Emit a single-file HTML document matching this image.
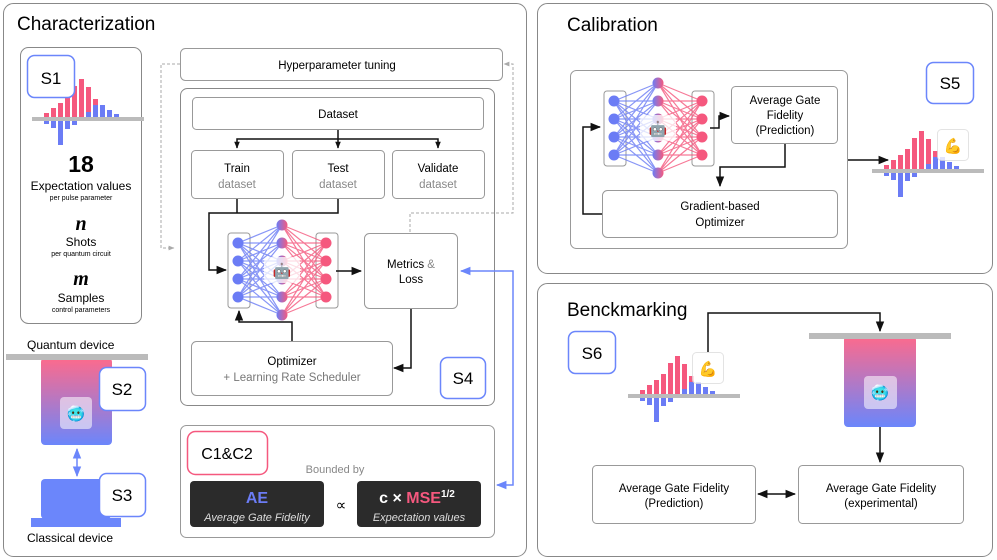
<!DOCTYPE html>
<html><head><meta charset="utf-8"><style>
body{margin:0;background:#fff}
svg{display:block;font-family:"Liberation Sans",sans-serif}
</style></head><body>
<svg width="997" height="560" viewBox="0 0 997 560" xmlns="http://www.w3.org/2000/svg">
<defs>
<linearGradient id="dev" x1="0" y1="0" x2="0" y2="1"><stop offset="0" stop-color="#fd6a8c"/><stop offset="1" stop-color="#6b86fb"/></linearGradient>
<linearGradient id="hid" x1="0" y1="0" x2="1" y2="0"><stop offset="0" stop-color="#6b7cf5"/><stop offset="1" stop-color="#f55a7f"/></linearGradient>
<marker id="a" viewBox="0 0 10 10" refX="9" refY="5" markerWidth="7" markerHeight="7" orient="auto-start-reverse"><path d="M0,1 L10,5 L0,9z" fill="#111"/></marker>
<marker id="ab" viewBox="0 0 10 10" refX="9" refY="5" markerWidth="7" markerHeight="7" orient="auto-start-reverse"><path d="M0,1 L10,5 L0,9z" fill="#6b86fb"/></marker>
<marker id="ag" viewBox="0 0 10 10" refX="9" refY="5" markerWidth="6" markerHeight="6" orient="auto"><path d="M0,1 L10,5 L0,9z" fill="#aaa"/></marker>
<g id="hist">
<rect x="-12" y="0" width="112" height="4" fill="#bbb"/>
<g fill="#f5587e">
<rect x="0" y="-4" width="5" height="4"/><rect x="7" y="-9" width="5" height="9"/><rect x="14" y="-14" width="5" height="14"/><rect x="21" y="-20" width="5" height="20"/><rect x="28" y="-31" width="5" height="31"/><rect x="35" y="-38" width="5" height="38"/><rect x="42" y="-30" width="5" height="30"/><rect x="49" y="-18" width="5" height="18"/><rect x="56" y="-8" width="5" height="8"/></g>
<g fill="#6b7cf5">
<rect x="42" y="-5" width="5" height="5"/><rect x="49" y="-12" width="5" height="12"/><rect x="56" y="-12" width="5" height="12"/><rect x="63" y="-7" width="5" height="7"/><rect x="70" y="-3" width="5" height="3"/>
<rect x="0" y="4" width="5" height="3"/><rect x="7" y="4" width="5" height="7"/><rect x="14" y="4" width="5" height="24"/><rect x="21" y="4" width="5" height="8"/><rect x="28" y="4" width="5" height="4"/></g>
</g>
<g id="nn">
<rect x="-10" y="-10" width="22" height="75" rx="3" fill="#fff" stroke="#999"/>
<rect x="78" y="-10" width="22" height="75" rx="3" fill="#fff" stroke="#999"/>
<g stroke="#6b7cf5" stroke-width="1.2" opacity="0.8">
<path d="M0,0L44,-18M0,0L44,0M0,0L44,18M0,0L44,36M0,0L44,54M0,0L44,72M0,18L44,-18M0,18L44,0M0,18L44,18M0,18L44,36M0,18L44,54M0,18L44,72M0,36L44,-18M0,36L44,0M0,36L44,18M0,36L44,36M0,36L44,54M0,36L44,72M0,54L44,-18M0,54L44,0M0,54L44,18M0,54L44,36M0,54L44,54M0,54L44,72"/></g>
<g stroke="#f5587e" stroke-width="1.2" opacity="0.8">
<path d="M88,0L44,-18M88,0L44,0M88,0L44,18M88,0L44,36M88,0L44,54M88,0L44,72M88,18L44,-18M88,18L44,0M88,18L44,18M88,18L44,36M88,18L44,54M88,18L44,72M88,36L44,-18M88,36L44,0M88,36L44,18M88,36L44,36M88,36L44,54M88,36L44,72M88,54L44,-18M88,54L44,0M88,54L44,18M88,54L44,36M88,54L44,54M88,54L44,72"/></g>
<g fill="#6b7cf5"><circle cx="0" cy="0" r="5.5"/><circle cx="0" cy="18" r="5.5"/><circle cx="0" cy="36" r="5.5"/><circle cx="0" cy="54" r="5.5"/></g>
<g fill="#f5587e"><circle cx="88" cy="0" r="5.5"/><circle cx="88" cy="18" r="5.5"/><circle cx="88" cy="36" r="5.5"/><circle cx="88" cy="54" r="5.5"/></g>
<g fill="url(#hid)"><circle cx="44" cy="-18" r="5.5"/><circle cx="44" cy="0" r="5.5"/><circle cx="44" cy="18" r="5.5"/><circle cx="44" cy="36" r="5.5"/><circle cx="44" cy="54" r="5.5"/><circle cx="44" cy="72" r="5.5"/></g>
<rect x="26" y="14" width="36" height="26" rx="5" fill="#fff" opacity="0.75"/>
<text x="44" y="33" font-size="15" text-anchor="middle">🤖</text>
</g>
</defs>

<!-- panels -->
<rect x="3.5" y="3.5" width="523" height="553" rx="10" fill="none" stroke="#888"/>
<rect x="537.5" y="3.5" width="455" height="270" rx="10" fill="none" stroke="#888"/>
<rect x="537.5" y="283.5" width="455" height="273" rx="10" fill="none" stroke="#888"/>
<text x="17" y="30" font-size="19">Characterization</text>
<text x="567" y="31" font-size="19">Calibration</text>
<text x="567" y="316" font-size="19">Benckmarking</text>

<!-- S1 -->
<rect x="20.5" y="47.5" width="121" height="276" rx="8" fill="none" stroke="#888"/>
<use href="#hist" x="44" y="117"/>
<rect x="27.5" y="55.5" width="47" height="42" rx="7" fill="#fff" stroke="#6b86fb" stroke-width="1.5"/>
<text x="51" y="84" font-size="17" text-anchor="middle">S1</text>
<g text-anchor="middle">
<text x="81" y="172" font-size="23" font-weight="bold">18</text>
<text x="81" y="190" font-size="12">Expectation values</text>
<text x="81" y="200" font-size="7">per pulse parameter</text>
<text x="81" y="230" font-size="20" font-style="italic" font-weight="bold" font-family="Liberation Serif,serif">n</text>
<text x="81" y="246" font-size="12">Shots</text>
<text x="81" y="256" font-size="7">per quantum circuit</text>
<text x="81" y="285" font-size="20" font-style="italic" font-weight="bold" font-family="Liberation Serif,serif">m</text>
<text x="81" y="302" font-size="12">Samples</text>
<text x="81" y="312" font-size="7">control parameters</text>
</g>

<!-- devices -->
<text x="27" y="349" font-size="12">Quantum device</text>
<rect x="41" y="358" width="71" height="87" rx="4" fill="url(#dev)"/>
<rect x="6" y="354" width="142" height="6" fill="#bbb"/>
<rect x="60" y="397" width="32" height="32" rx="4" fill="#fff" opacity="0.55"/>
<text x="76" y="419" font-size="15" text-anchor="middle">🥶</text>
<rect x="99.5" y="367.5" width="46" height="43" rx="7" fill="#fff" stroke="#6b86fb" stroke-width="1.5"/>
<text x="122" y="395" font-size="17" text-anchor="middle">S2</text>
<line x1="77" y1="449" x2="77" y2="476" stroke="#6b86fb" stroke-width="1.5" marker-start="url(#ab)" marker-end="url(#ab)"/>
<rect x="41" y="479" width="70" height="40" rx="4" fill="#6b86fb"/>
<rect x="31" y="518" width="90" height="9" fill="#6b86fb"/>
<rect x="99.5" y="473.5" width="46" height="43" rx="7" fill="#fff" stroke="#6b86fb" stroke-width="1.5"/>
<text x="122" y="501" font-size="17" text-anchor="middle">S3</text>
<text x="27" y="542" font-size="12">Classical device</text>

<!-- Hyperparameter -->
<rect x="180.5" y="48.5" width="322" height="32" rx="5" fill="#fff" stroke="#999"/>
<text x="337" y="69" font-size="11.5" text-anchor="middle">Hyperparameter tuning</text>
<path d="M180,64 H161 V248 H174" fill="none" stroke="#aaa" stroke-dasharray="3,2" marker-end="url(#ag)"/>
<path d="M410,232 V213 H513 V64 H504" fill="none" stroke="#aaa" stroke-dasharray="3,2" marker-end="url(#ag)"/>

<!-- S4 -->
<rect x="180.5" y="88.5" width="314" height="317" rx="7" fill="none" stroke="#888"/>
<rect x="192.5" y="97.5" width="291" height="32" rx="4" fill="#fff" stroke="#999"/>
<text x="338" y="118" font-size="11.5" text-anchor="middle">Dataset</text>
<path d="M338,130 V139 M237,148 V139 H438 V148 M338,139 V148" fill="none" stroke="#111" stroke-width="1.5"/>
<path d="M237,140 V148" stroke="#111" marker-end="url(#a)"/><path d="M338,140 V148" stroke="#111" marker-end="url(#a)"/><path d="M438,140 V148" stroke="#111" marker-end="url(#a)"/>
<g font-size="11.5" text-anchor="middle">
<rect x="191.5" y="150.5" width="92" height="48" rx="4" fill="#fff" stroke="#999"/><text x="237" y="172">Train</text><text x="237" y="188" fill="#888">dataset</text>
<rect x="292.5" y="150.5" width="92" height="48" rx="4" fill="#fff" stroke="#999"/><text x="338" y="172">Test</text><text x="338" y="188" fill="#888">dataset</text>
<rect x="392.5" y="150.5" width="92" height="48" rx="4" fill="#fff" stroke="#999"/><text x="438" y="172">Validate</text><text x="438" y="188" fill="#888">dataset</text>
</g>
<path d="M237,199 V213 M338,199 V213 H209 V270 H226" fill="none" stroke="#111" stroke-width="1.5" marker-end="url(#a)"/>
<use href="#nn" x="238" y="243"/>
<path d="M336,271 H361" stroke="#111" stroke-width="1.5" marker-end="url(#a)"/>
<rect x="364.5" y="233.5" width="93" height="75" rx="5" fill="#fff" stroke="#999"/>
<text x="411" y="268" font-size="11.5" text-anchor="middle">Metrics <tspan fill="#888">&amp;</tspan></text>
<text x="411" y="283" font-size="11.5" text-anchor="middle">Loss</text>
<path d="M411,309 V368 H394" fill="none" stroke="#111" stroke-width="1.5" marker-end="url(#a)"/>
<rect x="191.5" y="341.5" width="201" height="54" rx="5" fill="#fff" stroke="#999"/>
<text x="292" y="365" font-size="11.5" text-anchor="middle">Optimizer</text>
<text x="292" y="381" font-size="11.5" text-anchor="middle" fill="#777">+  Learning Rate Scheduler</text>
<path d="M292,341 V322 H239 V311" fill="none" stroke="#111" stroke-width="1.5" marker-end="url(#a)"/>
<rect x="440.5" y="357.5" width="45" height="41" rx="7" fill="#fff" stroke="#6b86fb" stroke-width="1.5"/>
<text x="463" y="384" font-size="17" text-anchor="middle">S4</text>
<path d="M497,485 H513 V271 H461" fill="none" stroke="#6b86fb" stroke-width="1.5" marker-end="url(#ab)" marker-start="url(#ab)"/>

<!-- C1&C2 -->
<rect x="180.5" y="425.5" width="314" height="112" rx="6" fill="none" stroke="#999"/>
<rect x="187.5" y="431.5" width="80" height="43" rx="8" fill="#fff" stroke="#f5587e" stroke-width="1.5"/>
<text x="227" y="459" font-size="16" text-anchor="middle">C1&amp;C2</text>
<text x="335" y="473" font-size="11" text-anchor="middle" fill="#888">Bounded by</text>
<rect x="190" y="481" width="134" height="46" rx="4" fill="#2b2b2b"/>
<text x="257" y="503" font-size="16" font-weight="bold" text-anchor="middle" fill="#6b7cf5">AE</text>
<text x="257" y="521" font-size="11" font-style="italic" text-anchor="middle" fill="#ddd">Average Gate Fidelity</text>
<text x="341" y="510" font-size="15" text-anchor="middle">∝</text>
<rect x="357" y="481" width="124" height="46" rx="4" fill="#2b2b2b"/>
<text x="417" y="503" font-size="16" font-weight="bold" text-anchor="middle" fill="#fff">c × <tspan fill="#f5587e">MSE</tspan><tspan font-size="10" dy="-6">1/2</tspan></text>
<text x="419" y="521" font-size="11" font-style="italic" text-anchor="middle" fill="#ddd">Expectation values</text>

<!-- Calibration -->
<rect x="570.5" y="70.5" width="277" height="178" rx="6" fill="none" stroke="#999"/>
<use href="#nn" x="614" y="101"/>
<path d="M710,128 H719 V116 H729" fill="none" stroke="#111" stroke-width="1.5" marker-end="url(#a)"/>
<rect x="731.5" y="86.5" width="106" height="57" rx="4" fill="#fff" stroke="#999"/>
<g font-size="11.5" text-anchor="middle"><text x="785" y="104">Average Gate</text><text x="785" y="119">Fidelity</text><text x="785" y="134">(Prediction)</text></g>
<path d="M785,144 V167 H720 V186" fill="none" stroke="#111" stroke-width="1.5" marker-end="url(#a)"/>
<rect x="602.5" y="190.5" width="235" height="47" rx="5" fill="#fff" stroke="#999"/>
<text x="720" y="210" font-size="11.5" text-anchor="middle">Gradient-based</text>
<text x="720" y="226" font-size="11.5" text-anchor="middle">Optimizer</text>
<path d="M602,214 H583 V127 H600" fill="none" stroke="#111" stroke-width="1.5" marker-end="url(#a)"/>
<path d="M848,160 H888" stroke="#111" stroke-width="1.5" marker-end="url(#a)"/>
<use href="#hist" x="884" y="169"/>
<rect x="937.5" y="129.5" width="31" height="31" rx="4" fill="#fff" opacity="0.8" stroke="#ddd"/>
<text x="953" y="151" font-size="15" text-anchor="middle">💪</text>
<rect x="926.5" y="62.5" width="47" height="41" rx="7" fill="#fff" stroke="#6b86fb" stroke-width="1.5"/>
<text x="950" y="89" font-size="17" text-anchor="middle">S5</text>

<!-- Benchmarking -->
<rect x="568.5" y="331.5" width="47" height="42" rx="7" fill="#fff" stroke="#6b86fb" stroke-width="1.5"/>
<text x="592" y="359" font-size="17" text-anchor="middle">S6</text>
<use href="#hist" x="640" y="394"/>
<rect x="692.5" y="352.5" width="31" height="31" rx="4" fill="#fff" opacity="0.8" stroke="#ddd"/>
<text x="708" y="374" font-size="15" text-anchor="middle">💪</text>
<path d="M708,352 V313 H880 V331" fill="none" stroke="#111" stroke-width="1.5" marker-end="url(#a)"/>
<rect x="844" y="336" width="72" height="91" rx="4" fill="url(#dev)"/>
<rect x="809" y="333" width="142" height="6" fill="#bbb"/>
<rect x="864" y="376" width="33" height="33" rx="4" fill="#fff" opacity="0.55"/>
<text x="880" y="398" font-size="15" text-anchor="middle">🥶</text>
<path d="M880,427 V462" stroke="#111" stroke-width="1.5" marker-end="url(#a)"/>
<rect x="592.5" y="465.5" width="163" height="58" rx="4" fill="#fff" stroke="#999"/>
<text x="674" y="492" font-size="11.5" text-anchor="middle">Average Gate Fidelity</text>
<text x="674" y="507" font-size="11.5" text-anchor="middle">(Prediction)</text>
<rect x="798.5" y="465.5" width="165" height="58" rx="4" fill="#fff" stroke="#999"/>
<text x="881" y="492" font-size="11.5" text-anchor="middle">Average Gate Fidelity</text>
<text x="881" y="507" font-size="11.5" text-anchor="middle">(experimental)</text>
<path d="M758,494 H795" stroke="#111" stroke-width="1.5" marker-start="url(#a)" marker-end="url(#a)"/>
</svg>
</body></html>
